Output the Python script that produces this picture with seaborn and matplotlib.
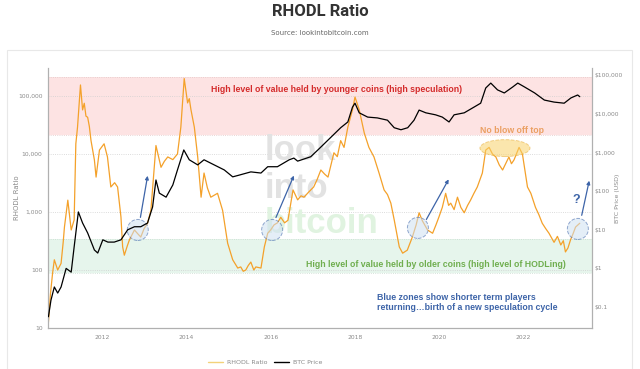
import numpy as np
import pandas as pd
import matplotlib.pyplot as plt
import seaborn as sns
from matplotlib.patches import Ellipse, Rectangle
from matplotlib.lines import Line2D
from matplotlib.ticker import FixedLocator, FuncFormatter, NullLocator

# RHODL ratio (decimal year, value)
rhodl_year = [2010.72, 2010.78, 2010.83, 2010.87, 2010.95, 2011.03, 2011.08, 2011.11, 2011.19, 2011.27,
              2011.34, 2011.38, 2011.42, 2011.49, 2011.54, 2011.58, 2011.62, 2011.66, 2011.70, 2011.74,
              2011.82, 2011.86, 2011.94, 2012.05, 2012.13, 2012.21, 2012.30, 2012.37, 2012.45, 2012.49,
              2012.53, 2012.60, 2012.65, 2012.77, 2012.85, 2012.92, 2013.00, 2013.08, 2013.16, 2013.28,
              2013.40, 2013.48, 2013.56, 2013.68, 2013.79, 2013.87, 2013.95, 2014.03, 2014.07, 2014.11,
              2014.19, 2014.27, 2014.35, 2014.42, 2014.50, 2014.58, 2014.74, 2014.86, 2014.98, 2015.10,
              2015.22, 2015.29, 2015.35, 2015.41, 2015.47, 2015.53, 2015.60, 2015.65, 2015.77, 2015.85,
              2015.93, 2016.00, 2016.08, 2016.16, 2016.24, 2016.33, 2016.41, 2016.53, 2016.64, 2016.72,
              2016.79, 2016.90, 2017.02, 2017.10, 2017.19, 2017.28, 2017.36, 2017.43, 2017.50, 2017.58,
              2017.66, 2017.74, 2017.83, 2017.94, 2018.00, 2018.05, 2018.10, 2018.22, 2018.33, 2018.45,
              2018.57, 2018.69, 2018.77, 2018.85, 2018.93, 2019.05, 2019.13, 2019.24, 2019.36, 2019.45,
              2019.52, 2019.60, 2019.72, 2019.84, 2019.92, 2019.99, 2020.07, 2020.15, 2020.22, 2020.27,
              2020.35, 2020.43, 2020.51, 2020.59, 2020.67, 2020.74, 2020.82, 2020.90, 2021.02, 2021.10,
              2021.18, 2021.26, 2021.34, 2021.42, 2021.50, 2021.58, 2021.65, 2021.71, 2021.77, 2021.89,
              2021.97, 2022.09, 2022.17, 2022.28, 2022.36, 2022.44, 2022.52, 2022.60, 2022.72, 2022.80,
              2022.88, 2022.94, 2022.99, 2023.05, 2023.11, 2023.17, 2023.23, 2023.33]
rhodl_val = [10, 40, 90, 150, 100, 130, 300, 550, 1600, 490,
             730, 15000, 29000, 155000, 57600, 75000, 45000, 43000, 30000, 17000,
             7900, 4000, 11700, 15000, 8900, 2700, 3200, 2700, 820, 250,
             180, 260, 330, 490, 420, 370, 520, 640, 1070, 14000,
             5900, 7500, 8900, 8000, 10000, 29000, 200000, 76000, 90000, 58000,
             29000, 8900, 1800, 4700, 2600, 1800, 2100, 1070, 290, 150,
             108, 113, 95, 100, 120, 137, 100, 113, 108, 250,
             430, 490, 600, 650, 810, 650, 720, 2400, 1620, 1900,
             1800, 2200, 2700, 3600, 5300, 4500, 4000, 6500, 10500, 9000,
             17000, 13000, 29000, 58000, 96000, 75000, 58000, 23000, 13000, 8900,
             4700, 2400, 2000, 1420, 730, 250, 195, 220, 370, 600,
             970, 700, 490, 430, 600, 820, 1200, 2100, 1300, 1420,
             1100, 1800, 1200, 970, 1300, 1600, 2100, 2700, 4700, 11700,
             13000, 10000, 8900, 6500, 5300, 7000, 8900, 6800, 7900, 13000,
             10000, 2700, 2100, 1200, 900, 640, 520, 430, 300, 380,
             270, 320, 205, 240, 330, 420, 550, 640]

# BTC price in USD
price_year = [2010.73, 2010.79, 2010.87, 2010.95, 2011.03, 2011.15, 2011.27, 2011.34, 2011.44, 2011.54,
              2011.66, 2011.82, 2011.90, 2012.02, 2012.14, 2012.29, 2012.45, 2012.61, 2012.77, 2012.92,
              2013.08, 2013.20, 2013.28, 2013.36, 2013.52, 2013.68, 2013.79, 2013.94, 2014.07, 2014.27,
              2014.42, 2014.66, 2014.90, 2015.10, 2015.25, 2015.53, 2015.77, 2015.93, 2016.16, 2016.44,
              2016.55, 2016.64, 2016.95, 2017.12, 2017.43, 2017.66, 2017.83, 2017.94, 2018.00, 2018.10,
              2018.30, 2018.53, 2018.77, 2018.93, 2019.09, 2019.25, 2019.40, 2019.52, 2019.68, 2019.91,
              2020.07, 2020.23, 2020.35, 2020.59, 2020.82, 2020.98, 2021.10, 2021.22, 2021.38, 2021.54,
              2021.74, 2021.86, 2022.02, 2022.26, 2022.49, 2022.72, 2022.96, 2023.12, 2023.28, 2023.33]
price_val = [0.056, 0.15, 0.33, 0.23, 0.33, 1.0, 0.8, 3.6, 29, 15,
             8.3, 3.0, 2.5, 5.5, 4.8, 4.8, 5.5, 10, 12, 12,
             15, 39, 195, 89, 70, 145, 355, 1170, 650, 480,
             650, 480, 355, 235, 260, 316, 295, 430, 430, 650,
             720, 600, 780, 1170, 2500, 4400, 6200, 15000, 19000, 10700,
             8300, 7900, 6900, 4400, 3900, 4400, 6900, 12600, 10700, 9500,
             8300, 6200, 9500, 10700, 15000, 19000, 47000, 63000, 42000, 35000,
             50000, 63000, 50000, 35000, 22900, 20300, 19000, 26000, 31000, 28000]

year_ticks = [2012, 2014, 2016, 2018, 2020, 2022]
rhodl_ticks = [10, 100, 1000, 10000, 100000]
price_ticks = [0.1, 1, 10, 100, 1000, 10000, 100000]

orange = '#f4a12a'
grey = '#8a8a8a'

rhodl = pd.DataFrame({'year': rhodl_year, 'RHODL Ratio': rhodl_val})
price = pd.DataFrame({'year': price_year, 'BTC Price': price_val})

sns.set_style('white')
plt.rcParams['font.family'] = ['DejaVu Sans']

fig = plt.figure(figsize=(6.4, 3.69), dpi=100)
fig.patches.append(Rectangle((7/640, -0.05), 625/640, 1.0 - 50/369 + 0.05, transform=fig.transFigure,
                             fill=False, edgecolor='#e8e8e8', linewidth=0.8))
ax = fig.add_axes([48/640, 41/369, 544/640, 260/369])
ax2 = ax.twinx()

# bands
ax.axhspan(21000, 210000, color='#fde3e3', zorder=0, lw=0)
ax.axhspan(90, 340, color='#e6f5ec', zorder=0, lw=0)
for yb in [210000, 21000, 340, 90]:
    ax.axhline(yb, color='#e2c8c8' if yb > 1000 else '#c8dccf', ls=':', lw=0.6, zorder=0)

# watermark
wm = dict(transform=ax.transAxes, family='Liberation Sans', weight='bold', fontsize=25,
          va='baseline', ha='left', zorder=1)
ax.text(0.399, 0.646, 'look', color='#e2e2e2', **wm)
ax.text(0.399, 0.50, 'into', color='#e2e2e2', **wm)
ax.text(0.399, 0.365, 'bitcoin', color='#e0f3e0', **wm)

sns.lineplot(data=rhodl, x='year', y='RHODL Ratio', ax=ax, color=orange, linewidth=0.9, label='RHODL Ratio', zorder=3)
sns.lineplot(data=price, x='year', y='BTC Price', ax=ax2, color='black', linewidth=0.9, label='BTC Price', zorder=3)

ax.set_yscale('log')
ax2.set_yscale('log')
ax.set_ylim(10, 304000)
ax2.set_ylim(0.0286, 155000)
ax.set_xlim(2010.72, 2023.62)

ax.yaxis.set_major_locator(FixedLocator(rhodl_ticks))
ax.yaxis.set_minor_locator(NullLocator())
ax.yaxis.set_major_formatter(FuncFormatter(lambda v, p: f'{v:,.0f}'))
ax2.yaxis.set_major_locator(FixedLocator(price_ticks))
ax2.yaxis.set_minor_locator(NullLocator())
ax2.yaxis.set_major_formatter(FuncFormatter(lambda v, p: '$0.1' if v < 1 else f'${v:,.0f}'))
ax.set_xticks(year_ticks)
ax.set_xticklabels([str(y) for y in year_ticks])

ax.grid(axis='y', ls=':', color='#d0d0d0', lw=0.6)
ax.set_axisbelow(True)
for a in (ax, ax2):
    a.tick_params(length=0, labelsize=4.3, labelcolor=grey)
    for s in a.spines.values():
        s.set_color('#b0b0b0')
        s.set_linewidth(0.8)
    a.spines['top'].set_visible(False)
ax.tick_params(axis='y', pad=4)
ax.tick_params(axis='x', pad=5)
ax2.tick_params(axis='y', pad=2)

ax.set_xlabel('')
ax.set_ylabel('RHODL Ratio', fontsize=5, color=grey)
ax.yaxis.set_label_coords((20 - 48) / 544, 0.5)
ax2.set_ylabel('BTC Price (USD)', fontsize=4.5, color=grey, rotation=90)
ax2.yaxis.set_label_coords((615 - 48) / 544, 0.5)

# annotations
tf = ax2.transAxes
ax2.text(0.531, 0.919, 'High level of value held by younger coins (high speculation)', transform=tf,
         family='Liberation Sans', weight='bold', fontsize=6.3, color='#d42b2b', ha='center', va='center')
ax2.text(0.713, 0.246, 'High level of value held by older coins (high level of HODLing)', transform=tf,
         family='Liberation Sans', weight='bold', fontsize=6.3, color='#6fae4e', ha='center', va='center')
ax2.text(0.605, 0.098, 'Blue zones show shorter term players\nreturning\u2026birth of a new speculation cycle',
         transform=tf, family='Liberation Sans', weight='bold', fontsize=6.3, color='#3d64a8',
         ha='left', va='center', linespacing=1.1)
ax2.text(0.853, 0.758, 'No blow off top', transform=tf, family='Liberation Sans', weight='bold',
         fontsize=6.3, color='#eb9f62', ha='center', va='center')
ax2.add_patch(Ellipse((0.840, 0.692), 0.092, 0.065, transform=tf, facecolor='#f9d36a', alpha=0.55,
                      edgecolor='#e8b040', ls='--', lw=0.7, zorder=2))

for cx, cy in [(0.165, 0.377), (0.412, 0.377), (0.680, 0.385), (0.974, 0.381)]:
    ax2.add_patch(Ellipse((cx, cy), 0.0386, 0.081, transform=tf, facecolor='#cfe0f2', alpha=0.55,
                          edgecolor='#3d64a8', ls='--', lw=0.7, zorder=2))
for (x0, y0), (x1, y1) in [((0.169, 0.415), (0.184, 0.596)), ((0.417, 0.415), (0.454, 0.596)),
                           ((0.693, 0.408), (0.739, 0.581)), ((0.980, 0.423), (0.996, 0.577))]:
    ax2.annotate('', xy=(x1, y1), xytext=(x0, y0), xycoords=tf, textcoords=tf,
                 arrowprops=dict(arrowstyle='-|>', color='#3d64a8', lw=0.9, mutation_scale=5))
ax2.text(0.972, 0.492, '?', transform=tf, family='Liberation Sans', weight='bold', fontsize=9,
         color='#3d64a8', ha='center', va='center')

# legend
ax.get_legend().remove()
ax2.get_legend().remove()
handles = [Line2D([], [], color='#f3d27a', lw=1.0), Line2D([], [], color='black', lw=1.0)]
fig.legend(handles, ['RHODL Ratio', 'BTC Price'], loc='center', bbox_to_anchor=(265/640, 1 - 362/369),
           ncol=2, frameon=False, fontsize=4.5, labelcolor=grey, handlelength=2.5, columnspacing=1.0,
           handletextpad=0.6)

fig.text(0.5, 1 - 11/369, 'RHODL Ratio', ha='center', va='center', fontsize=12, weight='bold',
         family='Roboto', color='#333333')
fig.text(0.5, 1 - 33/369, 'Source: lookintobitcoin.com', ha='center', va='center', fontsize=5,
         color='#666666')

fig.savefig('out.png', dpi=100)
